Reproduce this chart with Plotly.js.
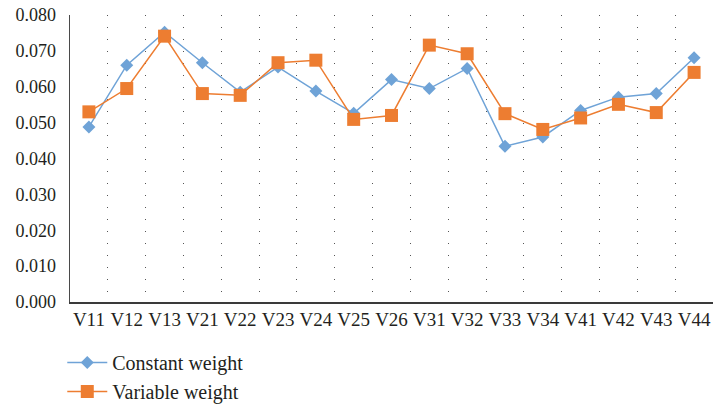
<!DOCTYPE html>
<html>
<head>
<meta charset="utf-8">
<script src="https://cdn.plot.ly/plotly-3.0.1.min.js"></script>
<style>
  html, body { margin: 0; padding: 0; background: #ffffff; }
  #chart { width: 720px; height: 407px; }
</style>
</head>
<body>
<div id="chart"></div>
<script>
// Indicator codes along the horizontal axis
const indicators = ['V11', 'V12', 'V13', 'V21', 'V22', 'V23', 'V24', 'V25', 'V26',
                    'V31', 'V32', 'V33', 'V34', 'V41', 'V42', 'V43', 'V44'];

// Weights per indicator
const constantWeight = [0.0488, 0.0660, 0.0752, 0.0667, 0.0585, 0.0655, 0.0588, 0.0526, 0.0620,
                        0.0595, 0.0651, 0.0434, 0.0460, 0.0534, 0.0571, 0.0581, 0.0681];
const variableWeight = [0.0530, 0.0595, 0.0741, 0.0581, 0.0576, 0.0667, 0.0674, 0.0509, 0.0520,
                        0.0716, 0.0692, 0.0525, 0.0481, 0.0513, 0.0551, 0.0528, 0.0640];

// Y-axis tick values
const yTicks = [0, 0.01, 0.02, 0.03, 0.04, 0.05, 0.06, 0.07, 0.08];

const serif = 'Times New Roman, Times, serif';

const traces = [
  {
    x: indicators, y: constantWeight, name: 'Constant weight',
    type: 'scatter', mode: 'lines+markers', legendgroup: 'a',
    line: { color: '#6FA3D7', width: 1.5 },
    marker: { symbol: 'diamond', size: 10, color: '#6FA3D7' }
  },
  {
    x: indicators, y: variableWeight, name: 'Variable weight',
    type: 'scatter', mode: 'lines+markers', legendgroup: 'b',
    line: { color: '#ED7D31', width: 1.5 },
    marker: { symbol: 'square', size: 13, color: '#ED7D31' }
  }
];

const layout = {
  width: 720, height: 407,
  margin: { l: 70, r: 7, t: 15, b: 105, autoexpand: false },
  paper_bgcolor: '#ffffff', plot_bgcolor: '#ffffff',
  font: { family: serif, color: '#231f20' },
  showlegend: true,
  legend: {
    orientation: 'v', xref: 'container', yref: 'container',
    x: 0.0865, xanchor: 'left', y: 0.157, yanchor: 'top',
    traceorder: 'grouped', tracegroupgap: 0, itemwidth: 40,
    font: { family: serif, size: 20, color: '#231f20' }
  },
  xaxis: {
    type: 'category', range: [-0.5, indicators.length - 0.5],
    tickson: 'boundaries', tickangle: 0, automargin: false,
    showgrid: true, gridcolor: '#555555', gridwidth: 1, griddash: '1px,11px',
    showline: true, linecolor: '#3a3a3a', linewidth: 1.5,
    ticks: '', tickfont: { family: serif, size: 19, color: '#231f20' },
    zeroline: false, fixedrange: true
  },
  yaxis: {
    range: [0, 0.08], tickvals: yTicks, tickformat: '.3f', automargin: false,
    showgrid: false, zeroline: false,
    showline: true, linecolor: '#4a4a4a', linewidth: 1.5,
    ticks: '', ticklabelstandoff: 9,
    tickfont: { family: serif, size: 18, color: '#231f20' },
    fixedrange: true
  }
};

Plotly.newPlot('chart', traces, layout, { staticPlot: true, displayModeBar: false });
</script>
</body>
</html>
